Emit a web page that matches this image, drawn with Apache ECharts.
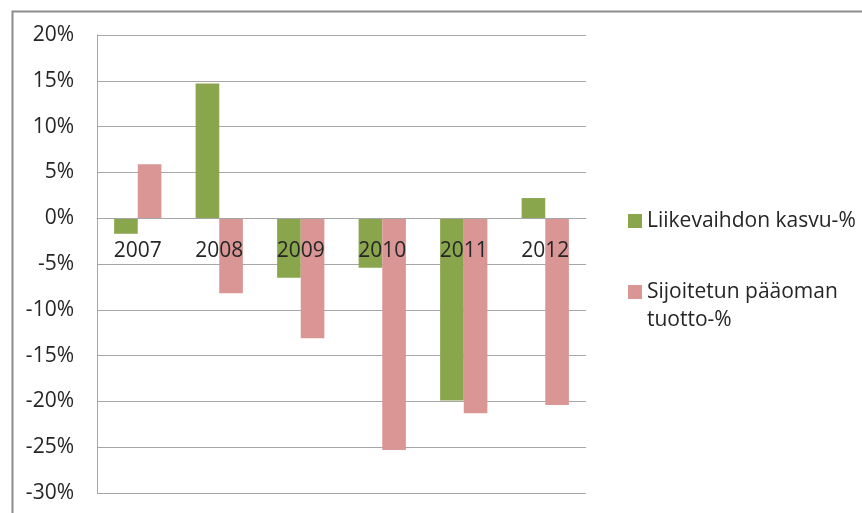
<!DOCTYPE html>
<html>
<head>
<meta charset="utf-8">
<script src="https://cdn.jsdelivr.net/npm/echarts@6/dist/echarts.min.js"></script>
<style>
  html, body { margin: 0; padding: 0; background: #fff; }
  #chart { width: 862px; height: 513px; }
</style>
</head>
<body>
<div id="chart"></div>
<script>
// Years on the category axis
const years = ['2007', '2008', '2009', '2010', '2011', '2012'];

// Revenue growth, %
const revenueGrowth = [-1.7, 14.7, -6.5, -5.4, -19.9, 2.2];

// Return on capital employed, %
const returnOnCapital = [5.9, -8.2, -13.1, -25.3, -21.3, -20.4];

// Series names
const nameGrowth = 'Liikevaihdon kasvu-%';
const nameReturn = 'Sijoitetun pääoman tuotto-%';

const FONT = '"Open Sans", "Liberation Sans", sans-serif';
const TEXT = '#262626';
const GRID = '#a6a6a6';

// Plot box in pixels; the category axis sits on the 0 % line
const PLOT_TOP = 35, PLOT_BOTTOM = 20, Y_MIN = -30, Y_MAX = 20;
const plotHeight = 513 - PLOT_TOP - PLOT_BOTTOM;
const zeroOffset = -plotHeight * (0 - Y_MIN) / (Y_MAX - Y_MIN);

const chart = echarts.init(document.getElementById('chart'), null, { renderer: 'canvas' });

chart.setOption({
  backgroundColor: '#ffffff',
  animation: false,
  textStyle: { fontFamily: FONT },
  graphic: [{
    type: 'rect',
    left: 10, top: 9,
    shape: { width: 900, height: 600 },
    style: { fill: 'none', stroke: '#8c8c8c', lineWidth: 2 },
    silent: true
  }],
  grid: {
    left: 97, right: 276, top: PLOT_TOP, bottom: PLOT_BOTTOM,
    containLabel: false, outerBoundsMode: 'none'
  },
  legend: {
    orient: 'vertical',
    left: 623,
    top: 202,
    itemWidth: 14,
    itemHeight: 14,
    itemGap: 15,
    icon: 'rect',
    selectedMode: false,
    data: [nameGrowth, nameReturn],
    formatter: function (name) {
      return name === nameReturn ? '\nSijoitetun pääoman\ntuotto-%' : name;
    },
    textStyle: { fontFamily: FONT, fontSize: 21, color: TEXT, lineHeight: 28 }
  },
  xAxis: {
    type: 'category',
    data: years,
    position: 'bottom',
    offset: zeroOffset,
    z: 10,
    axisLine: { onZero: false, lineStyle: { color: GRID, width: 1 } },
    axisTick: { show: false },
    axisLabel: { color: TEXT, fontSize: 21, fontFamily: FONT, margin: 22 },
    splitLine: { show: false }
  },
  yAxis: {
    type: 'value',
    min: Y_MIN,
    max: Y_MAX,
    interval: 5,
    axisLine: { show: true, lineStyle: { color: GRID, width: 1 } },
    axisTick: { show: false },
    axisLabel: {
      color: TEXT, fontSize: 21, fontFamily: FONT, margin: 23,
      formatter: function (v) { return v + '%'; }
    },
    splitLine: { show: true, lineStyle: { color: GRID, width: 1 } }
  },
  series: [
    {
      name: nameGrowth,
      type: 'bar',
      data: revenueGrowth,
      barGap: '0%',
      barCategoryGap: '42%',
      itemStyle: { color: '#8aa64d' }
    },
    {
      name: nameReturn,
      type: 'bar',
      data: returnOnCapital,
      barGap: '0%',
      barCategoryGap: '42%',
      itemStyle: { color: '#da9694' }
    }
  ]
});
</script>
</body>
</html>
